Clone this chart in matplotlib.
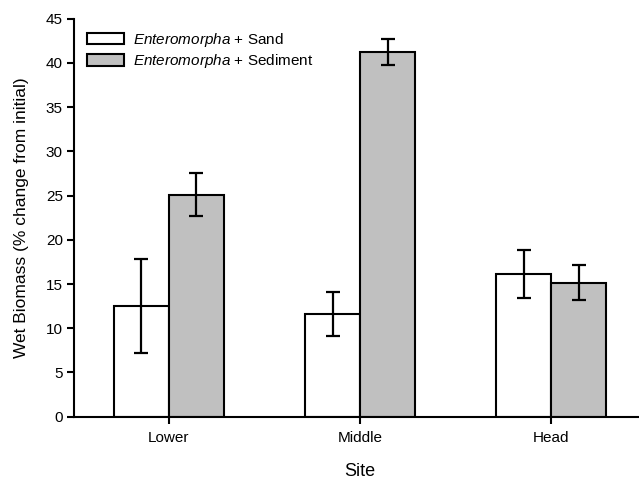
import matplotlib
matplotlib.use("Agg")
import matplotlib.pyplot as plt
import numpy as np

plt.rcParams['font.family'] = ['Liberation Sans', 'DejaVu Sans']
plt.rcParams['mathtext.fontset'] = 'custom'
plt.rcParams['mathtext.rm'] = 'Liberation Sans'
plt.rcParams['mathtext.it'] = 'Liberation Sans:italic'

sites = ["Lower", "Middle", "Head"]
sand_mean = [12.5, 11.6, 16.1]
sand_err = [5.3, 2.45, 2.7]
sed_mean = [25.1, 41.2, 15.15]
sed_err = [2.4, 1.45, 2.0]
yticks = [0, 5, 10, 15, 20, 25, 30, 35, 40, 45]

fig = plt.figure(figsize=(6.39, 4.83), dpi=100)
ax = fig.add_axes([74/639, 1 - 416.7/483, 1 - 74/639, (416.7 - 18.7)/483])

x = np.arange(len(sites))
w = 0.288
ekw = dict(elinewidth=1.6, capthick=1.6, ecolor='black')
ax.bar(x - w/2, sand_mean, w, color='white', edgecolor='black', linewidth=1.5,
       yerr=sand_err, capsize=5, error_kw=ekw, label=r'$\it{Enteromorpha}$ + Sand', zorder=2)
ax.bar(x + w/2, sed_mean, w, color='#c0c0c0', edgecolor='black', linewidth=1.5,
       yerr=sed_err, capsize=5, error_kw=ekw, label=r'$\it{Enteromorpha}$ + Sediment', zorder=2)

ax.set_xlim(-0.497, 2.46)
ax.set_ylim(0, 45)
ax.set_yticks(yticks)
ax.set_xticks(x)
ax.set_xticklabels(sites)
ax.spines['top'].set_visible(False)
ax.spines['right'].set_visible(False)
for s in ('left', 'bottom'):
    ax.spines[s].set_linewidth(1.5)
ax.tick_params(axis='both', direction='out', length=5, width=1.5, labelsize=11, pad=3)
ax.tick_params(axis='x', pad=5)

ax.set_xlabel('Site', fontsize=13, labelpad=13)
ax.xaxis.label.set_x((360 - 74) / (639 - 74))
ax.set_ylabel('Wet Biomass (% change from initial)', fontsize=12.5, labelpad=12)

leg = ax.legend(loc='upper left', bbox_to_anchor=(0.012, 0.984), frameon=False,
                fontsize=11, handlelength=2.4, handleheight=0.75, handletextpad=0.6,
                labelspacing=0.2, borderaxespad=0)

fig.savefig('out.png', dpi=100)
